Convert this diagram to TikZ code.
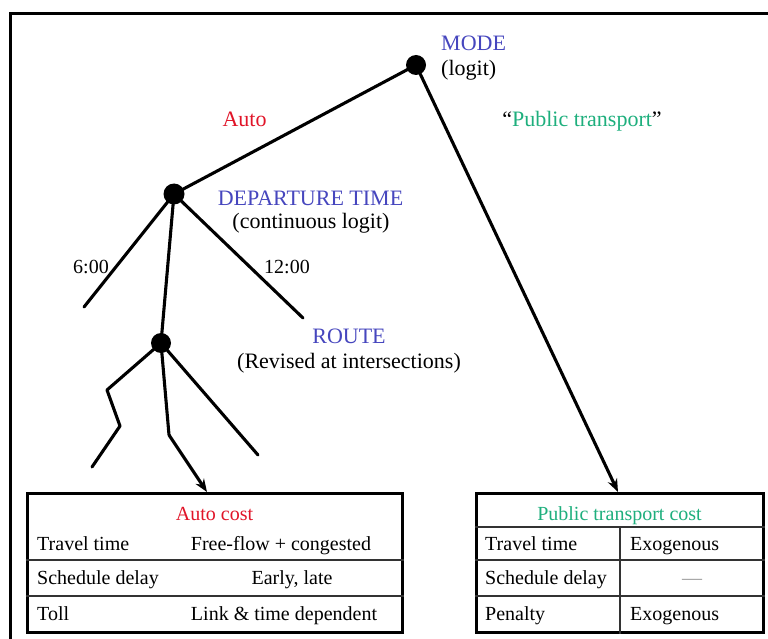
\documentclass[tikz,border=0pt]{standalone}
\usepackage{fontspec}
\setmainfont{Liberation Serif}
\usetikzlibrary{arrows.meta}
\definecolor{autored}{RGB}{225,20,40}
\definecolor{ptgreen}{RGB}{30,175,125}
\definecolor{lblblue}{RGB}{70,70,190}
\begin{document}
\begin{tikzpicture}[x=1pt,y=-1pt,
  branch/.style={line width=3.1pt, line cap=round, line join=round},
  arr/.style={line width=3.1pt, line join=round, -{Stealth[length=13pt,width=10pt]}},
  dot/.style={circle, fill=black, inner sep=0pt, minimum size=#1},
  lbl/.style={inner sep=0pt, anchor=base, font=\fontsize{22}{26}\selectfont},
  cell/.style={inner sep=0pt, anchor=base, font=\fontsize{20}{24}\selectfont},
  tbl/.style={draw, line width=3pt, inner sep=0pt, minimum height=139pt},
  rowline/.style={line width=1.5pt, black!80}
]
\useasboundingbox (0,0) rectangle (768,639);
\fill[white] (0,0) rectangle (768,639);
% frame
\draw[line width=3pt] (768,14) -- (10,14) -- (10,639);

% decision nodes
\node[dot=20pt] (M) at (416,65) {};
\node[dot=21pt] (D) at (174,194) {};
\node[dot=20pt] (R) at (161,343) {};

% tables
\node[tbl, minimum width=375pt] (autotab) at (214.5,562.5) {};
\node[tbl, minimum width=287pt] (pttab) at (619.5,562.5) {};

% branch end points
\coordinate (b6) at (84,307);
\coordinate (b12) at (303,318);
\coordinate (z1) at (107,390);
\coordinate (z2) at (120,426);
\coordinate (z3) at (92,467);
\coordinate (m1) at (169,435);
\coordinate (rr) at (258,455);
\coordinate (autoin) at (207,492);
\coordinate (ptin) at (618,492);

% connectors
\draw[branch] (M.center) -- (D.center);
\draw[arr] (M.center) -- (ptin);
\draw[branch] (D.center) -- (b6);
\draw[branch] (D.center) -- (R.center);
\draw[branch] (D.center) -- (b12);
\draw[branch] (R.center) -- (z1) -- (z2) -- (z3);
\draw[branch] (R.center) -- (m1);
\draw[arr] (m1) -- (autoin);
\draw[branch] (R.center) -- (rr);

% labels
\node[lbl, anchor=base west, text=lblblue] (modeT) at (441,51) {MODE};
\node[lbl, anchor=base west] (modeS) at (441,76) {(logit)};
\node[lbl, text=autored] (autoT) at (244.5,127) {Auto};
\node[lbl] (ptT) at (582,127) {“\textcolor{ptgreen}{Public transport}”};
\node[lbl, text=lblblue] (depT) at (310.5,205) {DEPARTURE TIME};
\node[lbl] (depS) at (311,229) {(continuous logit)};
\node[cell] (t6) at (91,273) {6:00};
\node[cell] (t12) at (287,273) {12:00};
\node[lbl, text=lblblue] (routeT) at (349,343) {ROUTE};
\node[lbl] (routeS) at (349,368) {(Revised at intersections)};

% auto table
\draw[rowline] (autotab.west |- 0,560) -- (autotab.east |- 0,560);
\draw[rowline] (autotab.west |- 0,596) -- (autotab.east |- 0,596);
\node[cell, text=autored] (ah) at (214.5,520) {Auto cost};
\node[cell, anchor=base west] (a1l) at (37,550) {Travel time};
\node[cell] (a1r) at (281,550) {Free-flow + congested};
\node[cell, anchor=base west] (a2l) at (37,584) {Schedule delay};
\node[cell] (a2r) at (292,584) {Early, late};
\node[cell, anchor=base west] (a3l) at (37,620) {Toll};
\node[cell] (a3r) at (284,620) {Link \& time dependent};

% public transport table
\draw[rowline] (pttab.west |- 0,527) -- (pttab.east |- 0,527);
\draw[rowline] (pttab.west |- 0,560) -- (pttab.east |- 0,560);
\draw[rowline] (pttab.west |- 0,596) -- (pttab.east |- 0,596);
\draw[rowline] (620,527) -- (pttab.south -| 620,0);
\node[cell, text=ptgreen] (ph) at (619.5,520) {Public transport cost};
\node[cell, anchor=base west] (p1l) at (485,550) {Travel time};
\node[cell, anchor=base west] (p1r) at (630,550) {Exogenous};
\node[cell, anchor=base west] (p2l) at (485,584) {Schedule delay};
\node[cell, text=black!40] (p2r) at (692,584) {—};
\node[cell, anchor=base west] (p3l) at (485,620) {Penalty};
\node[cell, anchor=base west] (p3r) at (630,620) {Exogenous};
\end{tikzpicture}
\end{document}
